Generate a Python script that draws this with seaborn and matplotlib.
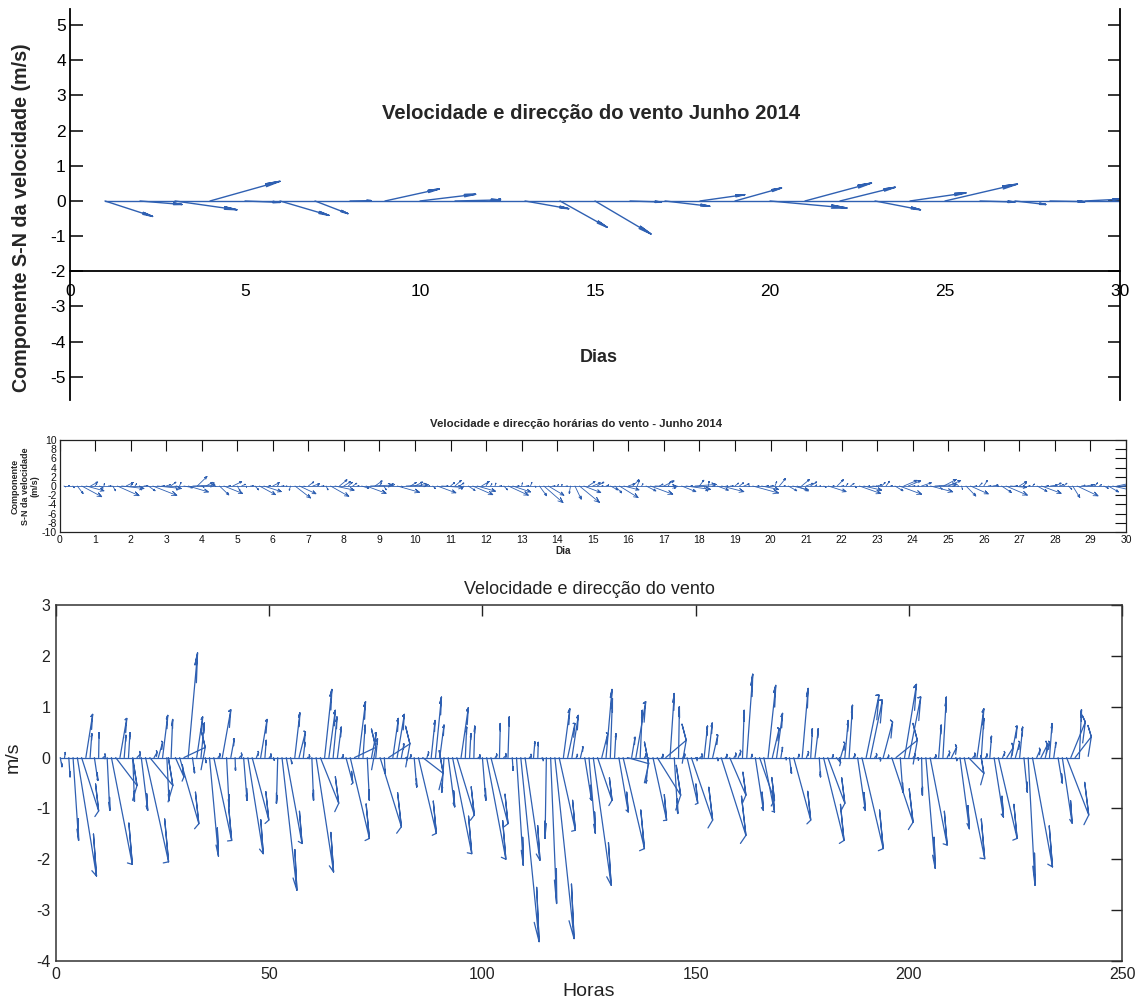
import numpy as np
import pandas as pd
import matplotlib
matplotlib.use("Agg")
import matplotlib.pyplot as plt
import seaborn as sns

sns.set_style("white")
plt.rcParams["font.family"] = ["Liberation Sans", "DejaVu Sans"]
plt.rcParams["axes.unicode_minus"] = False

# ---------------- data ----------------
# daily means (top panel), one vector per day
day_u = [1.36, 1.20, 1.77, 2.00, 1.00, 1.40, 0.94, 0.60, 1.55, 1.59,
         1.30, 0.30, 1.25, 1.35, 1.60, 0.90, 1.28, 1.28, 1.33, 2.20,
         1.90, 1.58, 1.30, 1.60, 2.07, 1.00, 0.88, 1.00, 1.00, 0.30]
day_v = [-0.44, -0.10, -0.25, 0.56, -0.04, -0.41, -0.36, 0.01, 0.34, 0.19,
         0.03, 0.05, -0.22, -0.75, -0.94, -0.03, -0.15, 0.18, 0.37, -0.20,
         0.51, 0.39, -0.25, 0.23, 0.48, -0.03, -0.10, -0.02, 0.05, -0.15]

# 3-hourly vectors (8 per day, 30 days)
hour_u = [
    0.4, 0.2, 0.3, 1.3, 4.5, 4.0, 1.6, 0.4,
    0.8, 0.1, 0.6, 0.6, 4.9, 5.0, 1.6, 0.4,
    0.35, 0.4, 0.8, 1.5, 5.4, 5.4, 0.7, 1.0,
    1.2, 0.5, 0.35, 2.0, 4.5, 5.0, 2.2, 0.5,
    1.4, 0.8, 0.2, 2.1, 4.2, 0.5, 2.0, 0.6,
    0.8, 0.1, 0.6, 0.8, 3.6, 3.9, 0.5, 1.5,
    0.3, 0.5, 0.2, -0.3, 3.5, 3.7, 0.3, 1.2,
    1.5, 0.4, 0.5, 0.4, 4.1, 4.3, 1.7, 1.5,
    0.9, 0.9, 0.4, 1.6, 4.5, 5.0, 1.6, 0.5,
    0.5, 1.1, 0.4, 5.0, 0.2, 5.0, 1.3, 1.7,
    0.6, 0.4, 0.3, 0.6, 4.2, 4.8, 0.4, 0.9,
    1.4, 1.0, -0.5, 1.5, 4.5, 4.1, 1.7, 0.3,
    0.3, 0.2, 0.5, 0.8, 4.5, 4.0, 0.4, 0.2,
    0.6, 0.3, 0.2, 1.6, 4.3, 3.5, 0.5, 0.3,
    0.1, 0.3, -0.3, 1.4, 4.5, 3.8, 1.5, 1.7,
    1.5, 0.3, 0.6, 1.6, 1.5, 4.2, 3.4, 1.4,
    1.4, 0.5, 0.3, 2.2, 5.0, 5.0, 0.8, 2.3,
    0.5, 0.4, -0.6, 3.2, 5.5, 0.4, 4.8, 1.0,
    0.8, 0.2, 0.5, 2.5, 5.0, 0.4, 0.6, 0.8,
    0.9, 1.2, 0.3, 5.8, 0.4, 3.8, 0.5, 0.6,
    0.4, 1.4, 0.3, 1.9, 3.5, 2.5, 1.8, 1.6,
    1.4, 0.4, 0.3, 0.5, 4.0, 0.3, 1.4, 0.5,
    0.4, 0.8, 0.3, 4.8, 4.0, 0.3, 1.0, 1.0,
    0.8, 0.8, 0.4, 1.8, 5.0, 3.0, 2.8, 0.5,
    0.4, 2.2, 0.3, 5.0, 5.0, 0.6, 2.8, 2.8,
    0.5, 0.3, 0.2, 2.2, 4.0, 0.4, 0.6, 0.8,
    0.6, 1.2, 0.3, 2.2, 4.8, 3.6, 0.6, 1.6,
    0.6, 0.4, 0.4, 2.2, 4.4, 0.5, 1.5, 1.4,
    1.0, 0.7, 0.8, 1.6, 4.7, 0.8, 1.5, 1.0,
    0.6, 0.5, 1.0, 2.3, 5.2, 3.4, 3.8, 0.5,
]
hour_v = [
    -0.18, 0.10, -0.38, -1.63, -2.33, -1.05, 0.85, 0.47,
    -0.45, 0.49, 0.03, -1.04, -2.10, -0.55, 0.77, 0.44,
    0.49, -0.86, 0.07, -1.04, -2.05, -0.55, 0.10, 0.30,
    0.83, -0.85, 0.75, -0.38, -1.30, 0.20, 2.06, -0.30,
    0.80, 0.68, -0.10, -1.94, -1.63, 0.05, 0.94, -0.97,
    0.37, -0.25, 0.05, -0.84, -1.89, -1.23, 0.10, 0.75,
    0.34, 0.04, -0.05, -0.90, -2.61, -1.69, -0.12, 0.88,
    0.50, 0.30, 0.02, -0.84, -2.25, -0.90, 1.34, 0.93,
    0.80, 0.60, 0.03, -0.50, -1.59, 0.20, 1.10, 0.64,
    -0.84, 0.49, 0.37, -1.36, -0.31, 0.27, 0.77, 0.85,
    0.27, -0.03, 0.04, -0.58, -1.49, -0.31, 0.10, 0.73,
    1.19, 0.64, -0.68, -0.97, -1.89, -1.13, 0.98, 0.60,
    0.47, 0.62, 0.02, -0.84, -2.00, -1.30, 0.05, 0.67,
    0.04, 0.80, -0.25, -2.12, -3.62, -2.02, 0.03, 0.31,
    0.30, -0.05, -1.59, -2.87, -3.56, -1.43, 0.96, 0.67,
    0.83, 0.05, 0.21, -0.84, -1.49, -2.51, -0.84, 0.47,
    1.34, 1.16, 0.47, -1.07, -1.79, -0.12, 0.40, 1.10,
    0.93, 0.05, -0.50, -1.23, -0.74, 0.04, 0.34, 1.26,
    -1.10, 1.00, 0.05, -0.90, -1.23, -0.04, 0.03, 0.62,
    0.68, 0.44, -0.05, -1.53, 0.04, -0.74, 0.06, 0.12,
    0.93, 1.64, 0.05, -1.04, -0.84, -1.07, 1.42, 0.57,
    0.87, 0.20, -0.03, -0.31, -1.23, 0.05, 1.36, 0.10,
    0.57, 0.57, -0.38, -1.63, -0.90, 0.04, -0.10, 0.28,
    0.73, 1.03, 0.05, -1.04, -1.79, 1.23, 1.13, 0.05,
    -0.05, 0.70, 0.03, -1.27, 0.34, -0.68, 1.44, 1.19,
    0.05, -0.04, -0.74, -2.18, -1.72, 0.03, 0.64, 1.19,
    0.10, 0.20, -0.05, -1.40, -1.99, -0.31, 0.05, 0.96,
    0.77, 0.05, 0.42, -1.17, -1.59, 0.10, 0.20, 0.62,
    0.30, 0.60, -0.68, -2.51, -2.15, 0.15, 0.25, 0.30,
    0.67, 0.30, -0.50, -1.29, -1.13, 0.70, 0.41, 0.94,
]

top_title = "Velocidade e direcção do vento Junho 2014"
top_ylabel = "Componente S-N da velocidade (m/s)"
top_xlabel = "Dias"
mid_title = "Velocidade e direcção horárias do vento - Junho 2014"
mid_ylabel = "Componente\nS-N da velocidade\n(m/s)"
mid_xlabel = "Dia"
bot_title = "Velocidade e direcção do vento"
bot_ylabel = "m/s"
bot_xlabel = "Horas"

BLUE = "#2f60b2"
W, H = 1136, 1005


def rect(l, t, r, b):
    return [l / W, 1 - b / H, (r - l) / W, (b - t) / H]


def feather_df(u, v, xscale=1.0, head_w=0.08):
    z = np.asarray(u, float) + 1j * np.asarray(v, float)
    shape = np.array([0, 1, 0.8 + head_w * 1j, 1, 0.8 - head_w * 1j])
    k = np.arange(1, len(z) + 1)
    pts = z[:, None] * shape[None, :] + k[:, None]
    return pd.DataFrame({"x": pts.real.ravel() * xscale,
                         "y": pts.imag.ravel(),
                         "id": np.repeat(k, len(shape))})


def draw_feather(ax, u, v, xscale=1.0, lw=0.9, head_w=0.08):
    df = feather_df(u, v, xscale, head_w)
    sns.lineplot(data=df, x="x", y="y", units="id", estimator=None,
                 sort=False, color=BLUE, lw=lw, ax=ax, legend=False)
    n = len(u)
    base = pd.DataFrame({"x": [1 * xscale, n * xscale], "y": [0.0, 0.0]})
    sns.lineplot(data=base, x="x", y="y", estimator=None, sort=False,
                 color=BLUE, lw=lw, ax=ax, legend=False)
    ax.set_xlabel("")
    ax.set_ylabel("")


fig = plt.figure(figsize=(W / 100, H / 100), dpi=100)
fig.patch.set_facecolor("white")

# ---------------- top panel ----------------
ax1 = fig.add_axes(rect(70, 9, 1120, 400))
draw_feather(ax1, day_u, day_v, lw=1.0, head_w=0.02)
ax1.set_xlim(0, 30)
ax1.set_ylim(-5.66, 5.46)
ax1.spines["top"].set_visible(False)
ax1.spines["bottom"].set_position(("data", -2))
for s in ["left", "right", "bottom"]:
    ax1.spines[s].set_color("black")
    ax1.spines[s].set_linewidth(1.3)
ax1.set_yticks(range(-5, 6))
ax1.set_xticks(range(0, 31, 5))
ax1.tick_params(axis="y", direction="in", length=9, width=1.1, left=True,
                right=True, labelsize=12.5, pad=3, colors="black")
ax1.tick_params(axis="x", direction="out", length=7, width=1.1,
                labelsize=12.5, pad=2, colors="black")
ax1.text(14.9, 2.5, top_title, ha="center", va="center", fontsize=14.6,
         fontweight="bold", transform=ax1.transData)
ax1.text(15.1, -4.44, top_xlabel, ha="center", va="center", fontsize=13,
         fontweight="bold", transform=ax1.transData)
fig.text(22 / W, 1 - 218 / H, top_ylabel, rotation=90, ha="center",
         va="center", fontsize=14.2, fontweight="bold")

# ---------------- middle panel ----------------
ax2 = fig.add_axes(rect(59.5, 440, 1126, 532))
draw_feather(ax2, hour_u, hour_v, xscale=1 / 8, lw=0.6)
ax2.set_xlim(0, 30)
ax2.set_ylim(-10, 10)
ax2.set_xticks(range(0, 31))
ax2.set_yticks(range(-10, 11, 2))
for s in ax2.spines.values():
    s.set_color("#222222")
    s.set_linewidth(0.9)
ax2.tick_params(axis="both", direction="in", length=8, width=0.8,
                top=True, right=True, labelsize=7.5, pad=2, colors="#111111")
ax2.text(0.484, 1.17, mid_title, ha="center", va="center", fontsize=8.2,
         fontweight="bold", transform=ax2.transAxes)
ax2.text(0.472, -0.21, mid_xlabel, ha="center", va="center", fontsize=7.2,
         fontweight="bold", transform=ax2.transAxes)
fig.text(25 / W, 1 - 486 / H, mid_ylabel, rotation=90, ha="center",
         va="center", fontsize=6.5, fontweight="bold", linespacing=1.1)

# ---------------- bottom panel ----------------
ax3 = fig.add_axes(rect(56, 605, 1122, 961))
draw_feather(ax3, hour_u, hour_v, lw=0.9)
ax3.set_xlim(0, 250)
ax3.set_ylim(-4, 3)
ax3.set_xticks(range(0, 251, 50))
ax3.set_yticks(range(-4, 4))
for s in ax3.spines.values():
    s.set_color("#333333")
    s.set_linewidth(1.1)
ax3.tick_params(axis="both", direction="in", length=8, width=1.0,
                top=True, right=True, labelsize=11.5, pad=4, colors="#222222")
ax3.set_title(bot_title, fontsize=13, pad=8, color="#222222")
ax3.set_xlabel(bot_xlabel, fontsize=14, labelpad=1, color="#222222")
ax3.set_ylabel(bot_ylabel, fontsize=14, color="#222222")
ax3.yaxis.set_label_coords(-0.032, 0.573)

fig.savefig("out.png", dpi=100, facecolor="white")
